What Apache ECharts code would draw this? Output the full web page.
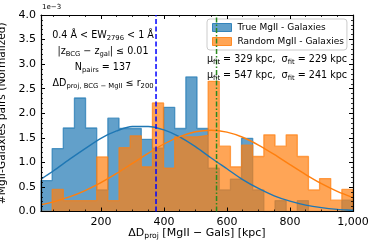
<!DOCTYPE html>
<html><head><meta charset="utf-8">
<script src="https://cdn.jsdelivr.net/npm/echarts@6/dist/echarts.min.js"></script>
<style>html,body{margin:0;padding:0;background:#fff}#c{width:374px;height:249px}</style>
</head><body><div id="c"></div>
<script>
// ---- data (density in units of 1e-3) ----
const binEdges = [10,45.4,80.7,116.1,151.4,186.8,222.1,257.5,292.9,328.2,363.6,398.9,434.3,469.6,505,540.4,575.7,611.1,646.4,681.8,717.1,752.5,787.9,823.2,858.6,893.9,929.3,964.6,1000];
const trueHist   = [0.63,1.28,1.70,2.31,1.70,0.44,1.90,1.69,1.69,1.47,1.29,2.12,1.69,2.74,1.69,0.88,0.44,0.66,1.49,0.44,0,0.22,0,0.22,0,0,0,0.23];
const randomHist = [0,0.45,0.22,0.22,0.22,1.11,0.22,1.30,1.54,0.91,2.21,0.88,1.52,1.52,1.55,2.65,1.33,0.91,1.35,1.12,1.56,1.33,1.56,1.12,0.44,0.67,0.23,0.45];
const fitX      = [10,50,100,150,200,250,300,350,400,450,500,550,600,650,700,750,800,850,900,950,1000];
const trueFit   = [0.66,0.83,1.06,1.28,1.49,1.64,1.73,1.73,1.66,1.52,1.32,1.09,0.87,0.65,0.47,0.32,0.21,0.13,0.078,0.044,0.024];
const randomFit = [0.138,0.197,0.296,0.426,0.587,0.775,0.979,1.185,1.374,1.526,1.624,1.655,1.615,1.511,1.353,1.161,0.954,0.751,0.566,0.409,0.283];
const trueLineX = 375;
const randomLineX = 567;
const xMajorTicks = [200,400,600,800,1000];
const xMinorTicks = [50,100,150,250,300,350,450,500,550,650,700,750,850,900,950];
const seriesNames = ['True MgII - Galaxies','Random MgII - Galaxies'];

function stepData(h){
  const d=[[binEdges[0],0]];
  h.forEach((v,i)=>d.push([binEdges[i],v]));
  d.push([binEdges[h.length],h[h.length-1]]);
  d.push([binEdges[h.length],0]);
  return d;
}
function pairs(xs,ys){return xs.map((x,i)=>[x,ys[i]]);}

const FONT='DejaVu Sans';
const BLUE='#1f77b4', ORANGE='#ff7f0e';
const chart=echarts.init(document.getElementById('c'),null,{renderer:'canvas'});

const baseX={type:'value',min:10,max:1000,gridIndex:0,splitLine:{show:false},z:5};
const baseY={type:'value',min:0,max:4,interval:0.5,gridIndex:0,splitLine:{show:false},z:5};

const sub={fontSize:6.8,fontFamily:FONT,color:'#000',lineHeight:6,verticalAlign:'bottom'};
const m={fontSize:9.6,fontFamily:FONT,color:'#000',lineHeight:14,verticalAlign:'middle'};

function ann(y,text,color,x,align,fs){
  const mm=Object.assign({},m,{color:color||'#000'});
  const ss=Object.assign({},sub,{color:color||'#000'});
  if(fs){mm.fontSize=fs;ss.fontSize=fs*0.71;}
  return {type:'text',x:x,y:y,z:100,style:{text:text,align:align||'center',verticalAlign:'middle',
    rich:{m:mm,s:ss}}};
}

chart.setOption({
  animation:false,
  backgroundColor:'#fff',
  textStyle:{fontFamily:FONT},
  grid:{left:41,right:21,top:15,bottom:37.5,show:false,containLabel:false,outerBoundsMode:'none'},
  xAxis:[
    Object.assign({},baseX,{position:'bottom',axisLine:{show:true,lineStyle:{color:'#000',width:1.2}},
      axisTick:{show:true,inside:true,length:4,customValues:xMajorTicks,lineStyle:{color:'#000',width:1}},
      axisLabel:{show:true,customValues:xMajorTicks,fontSize:11,color:'#000',fontFamily:FONT,margin:5},
      name:'{m|ΔD}{s|proj}{m| [MgII − Gals] [kpc]}',nameLocation:'middle',nameGap:14,nameMoveOverlap:false,
      nameTextStyle:{rich:{m:{fontSize:11,fontFamily:FONT,color:'#000',lineHeight:15,verticalAlign:'middle'},s:{fontSize:7.6,fontFamily:FONT,color:'#000',lineHeight:6,verticalAlign:'bottom'}}}}),
    Object.assign({},baseX,{position:'bottom',axisLine:{show:false},
      axisTick:{show:true,inside:true,length:2,customValues:xMinorTicks,lineStyle:{color:'#000',width:0.8}},axisLabel:{show:false}}),
    Object.assign({},baseX,{position:'top',axisLine:{show:true,lineStyle:{color:'#000',width:1.2}},
      axisTick:{show:true,inside:true,length:4,customValues:xMajorTicks,lineStyle:{color:'#000',width:1}},axisLabel:{show:false}}),
    Object.assign({},baseX,{position:'top',axisLine:{show:false},
      axisTick:{show:true,inside:true,length:2,customValues:xMinorTicks,lineStyle:{color:'#000',width:0.8}},axisLabel:{show:false}})
  ],
  yAxis:[
    Object.assign({},baseY,{position:'left',axisLine:{show:true,lineStyle:{color:'#000',width:1.2}},
      axisTick:{show:true,inside:true,length:4,lineStyle:{color:'#000',width:1}},
      minorTick:{show:true,splitNumber:5,length:2,lineStyle:{color:'#000',width:0.8}},
      axisLabel:{fontSize:11,color:'#000',fontFamily:FONT,margin:5,formatter:v=>v.toFixed(1)},
      name:'#MgII-Galaxies pairs (Normalized)',nameLocation:'middle',nameGap:26,
      nameTextStyle:{fontSize:10.6,fontFamily:FONT,color:'#000'}}),
    Object.assign({},baseY,{position:'right',axisLine:{show:true,lineStyle:{color:'#000',width:1.2}},
      axisTick:{show:true,inside:true,length:4,lineStyle:{color:'#000',width:1}},
      minorTick:{show:true,splitNumber:5,length:2,lineStyle:{color:'#000',width:0.8}},
      axisLabel:{show:false}})
  ],
  legend:{
    show:true,orient:'vertical',left:207,top:19,
    icon:'rect',itemWidth:19,itemHeight:8,itemGap:5,
    padding:[4,3,4,5],
    backgroundColor:'rgba(255,255,255,0.8)',borderColor:'#ccc',borderWidth:1,borderRadius:3,
    textStyle:{fontSize:9,fontFamily:FONT,color:'#000',padding:[0,0,0,1]},
    data:[
      {name:seriesNames[0],itemStyle:{color:'rgba(31,119,180,0.7)',borderColor:'rgba(31,119,180,0.85)',borderWidth:1}},
      {name:seriesNames[1],itemStyle:{color:'rgba(255,127,14,0.7)',borderColor:'rgba(255,127,14,0.85)',borderWidth:1}}
    ],
    selectedMode:false
  },
  series:[
    {name:seriesNames[0],type:'line',step:'end',symbol:'none',data:stepData(trueHist),
      lineStyle:{color:BLUE,width:1.3,opacity:0.7},itemStyle:{color:BLUE},
      areaStyle:{color:BLUE,opacity:0.7},z:2},
    {name:seriesNames[1],type:'line',step:'end',symbol:'none',data:stepData(randomHist),
      lineStyle:{color:ORANGE,width:1.3,opacity:0.7},itemStyle:{color:ORANGE},
      areaStyle:{color:ORANGE,opacity:0.7},z:3},
    {name:'trueFit',type:'line',smooth:0.3,symbol:'none',data:pairs(fitX,trueFit),
      lineStyle:{color:BLUE,width:1.4},z:4},
    {name:'randomFit',type:'line',smooth:0.3,symbol:'none',data:pairs(fitX,randomFit),
      lineStyle:{color:ORANGE,width:1.4},z:4},
    {name:'trueLine',type:'line',symbol:'none',data:[[trueLineX,0],[trueLineX,4]],
      lineStyle:{color:'#0000ff',width:1.5,type:[5,2.5]},z:6},
    {name:'randomLine',type:'line',symbol:'none',data:[[randomLineX,0],[randomLineX,4]],
      lineStyle:{color:'#2a8a1f',width:1.5,type:[5,2,1.5,2]},z:6}
  ],
  graphic:[
    {type:'text',x:42,y:4,z:100,style:{text:'1e−3',font:'7px "DejaVu Sans"',fill:'#000'}},
    ann(35,'{m|0.4 Å < EW}{s|2796}{m| < 1 Å}',null,103),
    ann(51,'{m||z}{s|BCG}{m| − z}{s|gal}{m|| ≤ 0.01}',null,103),
    ann(67,'{m|N}{s|pairs}{m| = 137}',null,103),
    ann(83,'{m|ΔD}{s|proj, BCG − MgII}{m| ≤ r}{s|200}',null,103),
    ann(59,'{m|μ}{s|fit}{m| = 329 kpc,  σ}{s|fit}{m| = 229 kpc}','rgba(31,119,180,0.8)',207,'left',9.6),
    ann(75,'{m|μ}{s|fit}{m| = 547 kpc,  σ}{s|fit}{m| = 241 kpc}','rgba(255,127,14,0.85)',207,'left',9.6)
  ]
});
</script></body></html>
